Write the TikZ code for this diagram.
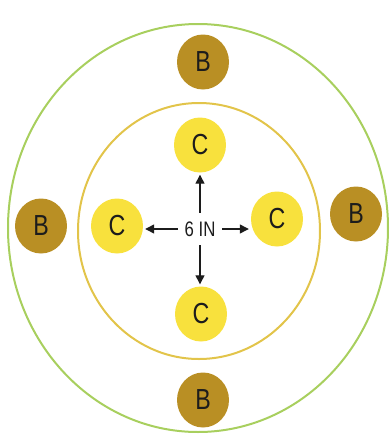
\documentclass[tikz,border=0pt]{standalone}
\usepackage{fontspec}
\setmainfont{Liberation Sans}[FakeStretch=0.8]
\usetikzlibrary{shapes.geometric,arrows.meta}
\definecolor{RingGreen}{HTML}{A8CF5E}
\definecolor{RingGold}{HTML}{E2C44A}
\definecolor{SpotC}{HTML}{F8E13D}
\definecolor{SpotB}{HTML}{B98F24}
\definecolor{InkDark}{HTML}{1C1C1C}

\begin{document}
\begin{tikzpicture}[x=1pt, y=-1pt,
    spot/.style={ellipse, inner sep=0pt, minimum width=52pt, minimum height=55pt,
      text=InkDark, font=\fontsize{29}{31}\selectfont},
    bspot/.style={spot, fill=SpotB},
    cspot/.style={spot, fill=SpotC},
    arr/.style={-{Triangle[length=9pt,width=9pt]}, line width=1.3pt, InkDark, shorten >=2pt}]
        \useasboundingbox (0,0) rectangle (391,440);
        % rings
        \draw[RingGreen, line width=2pt] (198,228) ellipse [x radius=190, y radius=204];
        \draw[RingGold, line width=2pt] (199,231) ellipse [x radius=121, y radius=128];
        % outer spots
        \foreach \n/\x/\y in {bt/203/62, bl/41/226, br/356/214, bb/203/400} {
            \node[bspot] (\n) at (\x,\y) {B};
        }
        % inner spots
        \foreach \n/\x/\y in {ct/200/145, cl/117/226, cr/277/219, cb/201/314} {
            \node[cspot] (\n) at (\x,\y) {C};
        }
        \node[inner sep=0pt, minimum width=44pt, minimum height=32pt, text=InkDark,
          font=\fontsize{21}{23}\selectfont] (six) at (200,229) {6 IN};
        \draw[arr] (six) -- (six |- ct.south);
        \draw[arr] (six) -- (six |- cb.north);
        \draw[arr] (six) -- (six -| cl.east);
        \draw[arr] (six) -- (six -| cr.west);
    \end{tikzpicture}
\end{document}
